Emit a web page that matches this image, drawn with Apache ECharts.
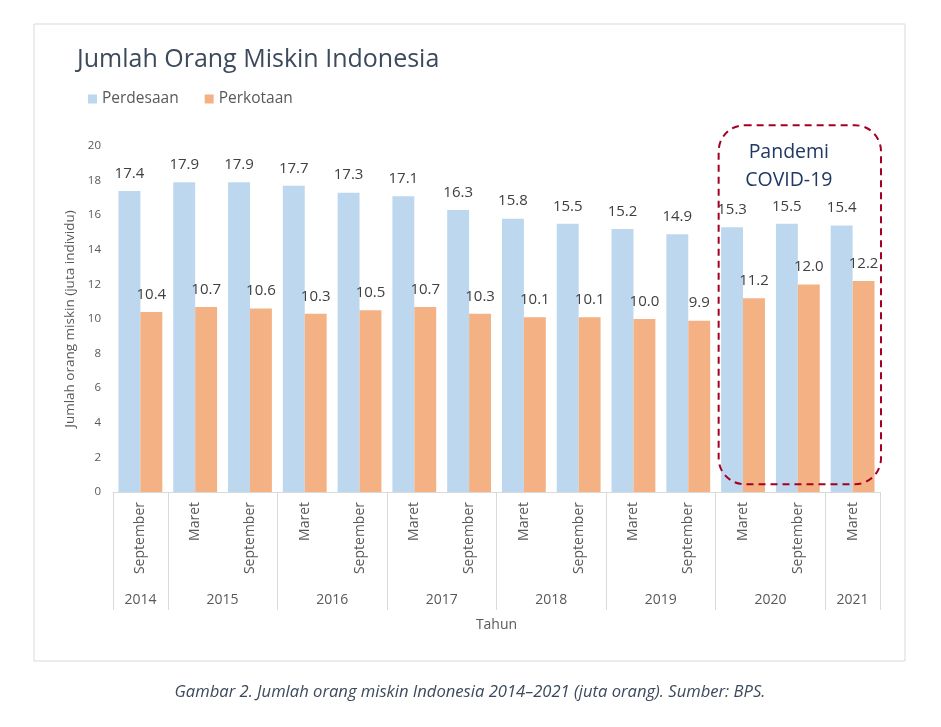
<!DOCTYPE html>
<html>
<head>
<meta charset="utf-8">
<script src="https://cdn.jsdelivr.net/npm/echarts@6/dist/echarts.min.js"></script>
<style>
html,body{margin:0;padding:0;background:#fff;}
#c{width:941px;height:727px;}
</style>
</head>
<body>
<div id="c"></div>
<script>
const categories = ['September','Maret','September','Maret','September','Maret','September','Maret','September','Maret','September','Maret','September','Maret'];
const categoryYears = ['2014','2015','2015','2016','2016','2017','2017','2018','2018','2019','2019','2020','2020','2021'];
const perdesaan = [17.4, 17.9, 17.9, 17.7, 17.3, 17.1, 16.3, 15.8, 15.5, 15.2, 14.9, 15.3, 15.5, 15.4];
const perkotaan = [10.4, 10.7, 10.6, 10.3, 10.5, 10.7, 10.3, 10.1, 10.1, 10.0, 9.9, 11.2, 12.0, 12.2];
const yTicks = [0, 2, 4, 6, 8, 10, 12, 14, 16, 18, 20];
const covidStart = 11; // first pandemic category index

// derive year groups
const groups = [];
categoryYears.forEach((y, i) => {
  if (!groups.length || groups[groups.length - 1].year !== y) groups.push({year: y, start: i, end: i + 1});
  else groups[groups.length - 1].end = i + 1;
});
const boundaries = [0].concat(groups.map(g => g.end));
const mids = groups.map(g => (g.start + g.end) / 2);

const FONT = '"Open Sans", "Noto Sans", sans-serif';
const chart = echarts.init(document.getElementById('c'));
const option = {
  animation: false,
  backgroundColor: '#fff',
  textStyle: {fontFamily: FONT},
  title: {
    text: 'Jumlah Orang Miskin Indonesia',
    left: 72, top: 42,
    textStyle: {fontSize: 25, fontWeight: 'normal', color: '#3c4a5c', fontFamily: FONT}
  },
  legend: {
    left: 83, top: 86,
    itemWidth: 9, itemHeight: 9, itemGap: 26,
    icon: 'rect',
    textStyle: {fontSize: 15.5, color: '#595959', fontFamily: FONT},
    data: ['Perdesaan', 'Perkotaan']
  },
  grid: {left: 113, right: 61, top: 146, bottom: 235, containLabel: false},
  xAxis: [{
    type: 'category',
    data: categories,
    axisLine: {show: true, lineStyle: {color: '#d9d9d9', width: 1}},
    axisTick: {show: false},
    axisLabel: {rotate: 90, margin: 10, fontSize: 14, color: '#595959', interval: 0, fontFamily: FONT}
  }, {
    type: 'value',
    position: 'bottom',
    min: 0, max: categories.length,
    axisLine: {show: false},
    splitLine: {show: false},
    axisTick: {show: true, customValues: boundaries, length: 118, lineStyle: {color: '#d9d9d9'}},
    axisLabel: {
      customValues: mids, margin: 101, fontSize: 14, color: '#595959', fontFamily: FONT,
      formatter: v => { const k = mids.indexOf(v); return k >= 0 ? groups[k].year : ''; }
    },
    name: 'Tahun', nameLocation: 'middle', nameGap: 126,
    nameTextStyle: {fontSize: 14, color: '#595959', fontFamily: FONT}
  }],
  yAxis: {
    type: 'value',
    min: yTicks[0], max: yTicks[yTicks.length - 1], interval: 2,
    axisLine: {show: false}, axisTick: {show: false},
    splitLine: {show: false},
    axisLabel: {fontSize: 11.5, color: '#595959', margin: 12, fontFamily: FONT},
    name: 'Jumlah orang miskin (juta individu)',
    nameLocation: 'middle', nameGap: 36,
    nameTextStyle: {fontSize: 13.5, color: '#595959', fontFamily: FONT}
  },
  series: [{
    name: 'Perdesaan', type: 'bar', data: perdesaan,
    barGap: '0%', barCategoryGap: '20%',
    itemStyle: {color: '#bdd7ee'},
    label: {show: true, position: 'top', distance: 10, fontSize: 15, color: '#404040', formatter: p => p.value.toFixed(1), fontFamily: FONT}
  }, {
    name: 'Perkotaan', type: 'bar', data: perkotaan,
    barGap: '0%', barCategoryGap: '20%',
    itemStyle: {color: '#f4b183'},
    label: {show: true, position: 'top', distance: 10, fontSize: 15, color: '#404040', formatter: p => p.value.toFixed(1), fontFamily: FONT}
  }]
};
chart.setOption(option);

// annotation box over the pandemic categories, positioned via the axes
const x0 = chart.convertToPixel({xAxisIndex: 1}, covidStart) + 3;
const x1 = chart.convertToPixel({xAxisIndex: 1}, categories.length) + 1;
const yTop = chart.convertToPixel({yAxisIndex: 0}, 21.2);
const yBot = chart.convertToPixel({yAxisIndex: 0}, 0.45);
chart.setOption({
  graphic: [{
    type: 'rect', silent: true,
    shape: {x: 34, y: 24, width: 871, height: 637},
    style: {fill: 'none', stroke: '#d9d9d9', lineWidth: 1}
  }, {
    type: 'rect', silent: true, z: 100,
    shape: {x: x0, y: yTop, width: x1 - x0, height: yBot - yTop, r: 26},
    style: {fill: 'none', stroke: '#a50021', lineWidth: 2, lineDash: [7, 5]}
  }, {
    type: 'text', silent: true, z: 100,
    style: {
      text: 'Pandemi\nCOVID-19', x: (x0 + x1) / 2 - 11, y: yTop + 13,
      align: 'center', verticalAlign: 'top', lineHeight: 28,
      font: '19.5px ' + FONT, fill: '#1f3864'
    }
  }, {
    type: 'text', silent: true,
    style: {
      text: 'Gambar 2. Jumlah orang miskin Indonesia 2014\u20132021 (juta orang). Sumber: BPS.',
      x: 470, y: 692, align: 'center', verticalAlign: 'middle',
      font: 'italic 16.6px ' + FONT, fill: '#3c4a5c'
    }
  }]
});
</script>
</body>
</html>
